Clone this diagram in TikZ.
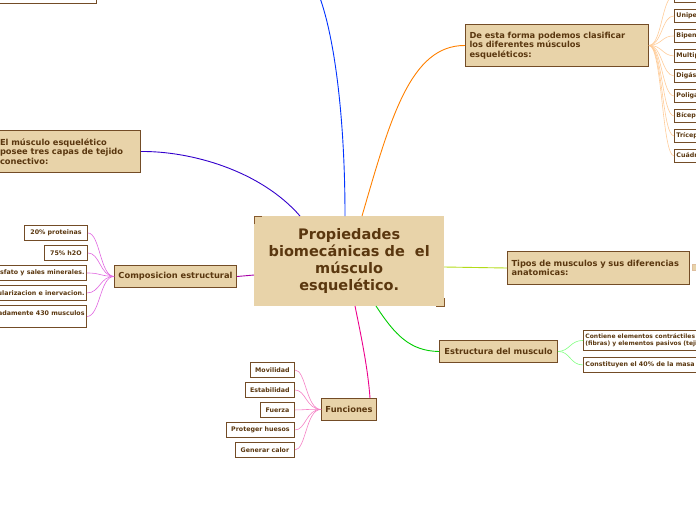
\documentclass[tikz,border=0pt]{standalone}
\usepackage{fontspec}
\setmainfont{DejaVu Sans}
\begin{document}
\begin{tikzpicture}[x=1pt,y=-1pt,
  topic/.style={draw=brown!60!black,fill={rgb,255:red,232;green,211;blue,169},line width=1pt,text={rgb,255:red,90;green,55;blue,15},font=\bfseries\fontsize{8.3}{9.5}\selectfont,inner sep=3pt,align=left,anchor=north west,minimum height=22pt},
  leaf/.style={draw=brown!60!black,fill=white,line width=0.9pt,text={rgb,255:red,90;green,55;blue,15},font=\bfseries\fontsize{6.3}{7.3}\selectfont,inner sep=2pt,anchor=north west,minimum height=15pt,align=left}]
\useasboundingbox (0,0) rectangle (696,520);
\clip (0,0) rectangle (696,520);
% central
\node[fill={rgb,255:red,232;green,211;blue,169},minimum width=190pt,minimum height=90pt,anchor=north west,text={rgb,255:red,90;green,55;blue,15},font=\bfseries\fontsize{14.5}{17}\selectfont,align=center] (c) at (254,216) {Propiedades\\biomecánicas de~ el\\músculo\\esquelético.};
\draw[brown!70!black,line width=1pt] (254,224) -- (254,216) -- (262,216);
\draw[brown!70!black,line width=1pt] (436,306) -- (444,306) -- (444,298);
% topics
\node[leaf,minimum width=110pt] (tl) at (-14,-12) {};
\node[topic,minimum width=145pt,minimum height=42pt,text width=136pt] (m) at (-5,130) {El músculo esquelético\\posee tres capas de tejido\\conectivo:};
\node[topic,minimum width=122pt] (ce) at (114,265) {Composicion estructural};
\node[topic,minimum width=55pt] (f) at (321,398) {Funciones};
\node[topic,minimum width=118pt] (es) at (439,340) {Estructura del musculo};
\node[topic,minimum width=182pt,minimum height=33pt,text width=174pt] (t) at (507,251) {Tipos de musculos y sus diferencias\\anatomicas:};
\node[topic,minimum width=183pt,minimum height=42pt,text width=175pt] (d) at (465,24) {De esta forma podemos clasificar\\los diferentes músculos\\esqueléticos:};
\node[draw=brown!50,fill={rgb,255:red,232;green,211;blue,169},minimum width=6pt,minimum height=6pt,inner sep=0pt] (ic) at (695,267) {};
% main connectors
\draw[blue!80!cyan,line width=0.9pt] (345,216) .. controls (345,120) and (335,40) .. (320,-2);
\draw[blue!60!violet,line width=0.9pt] (300,216) .. controls (260,170) and (190,151) .. (m.east);
\draw[orange,line width=0.9pt] (362,216) .. controls (390,120) and (410,45) .. (d.west);
\draw[yellow!70!green,line width=0.9pt] (444,267) -- (t.west);
\draw[green!80!black,line width=0.9pt] (376,306) .. controls (395,335) and (410,351) .. (es.west);
\draw[magenta,line width=0.9pt] (355,306) .. controls (362,340) and (368,370) .. (370,398);
\draw[violet!70!magenta,line width=0.9pt] (254,275) -- (ce.east);
% composicion leaves
\node[leaf,minimum width=63pt] (c1) at (24,225) {20\% proteinas};
\node[leaf,minimum width=43pt] (c2) at (44,245) {75\% h2O};
\node[leaf,anchor=north east] (c3) at (87,265) {Fosfato y sales minerales.};
\node[leaf,anchor=north east] (c4) at (87,285) {Vascularizacion e inervacion.};
\node[leaf,anchor=north east,minimum height=22pt,text depth=6pt] (c5) at (87,305) {Aproximadamente 430 musculos};
\foreach \n in {c1,c2,c3,c4,c5}
  \draw[violet!40!magenta!60,line width=0.6pt] (ce.west) .. controls (100,276) and (100,0 |- \n.east) .. (\n.east);
% funciones leaves
\node[leaf,minimum width=44pt] (f1) at (250,362) {Movilidad};
\node[leaf,minimum width=49pt] (f2) at (245,382) {Estabilidad};
\node[leaf,minimum width=34pt] (f3) at (260,402) {Fuerza};
\node[leaf,minimum width=68pt] (f4) at (226,422) {Proteger huesos};
\node[leaf,minimum width=59pt] (f5) at (235,442) {Generar calor};
\foreach \n in {f1,f2,f3,f4,f5}
  \draw[magenta!50,line width=0.6pt] (f.west) .. controls (306,409) and (306,0 |- \n.east) .. (\n.east);
% estructura leaves
\node[leaf,minimum width=120pt,minimum height=20pt,font=\bfseries\fontsize{6}{6.8}\selectfont] (e1) at (583,330) {Contiene elementos contráctiles\\(fibras) y elementos pasivos (tejido)};
\node[leaf,minimum width=120pt] (e2) at (583,357) {Constituyen el 40\% de la masa corporal};
\foreach \n in {e1,e2}
  \draw[green!50,line width=0.6pt] (es.east) .. controls (570,351) and (570,0 |- \n.west) .. (\n.west);
% clasificacion leaves
\foreach \y/\txt [count=\i] in {-11/Fusiforme,9/Unipennado,29/Bipennado,49/Multipennado,69/Digástrico,89/Poligástrico,109/Bíceps,129/Tríceps,149/Cuádriceps}{
  \node[leaf,minimum height=13pt,text width=50pt] (k\i) at (674,\y) {\txt};
  \draw[orange!40,line width=0.6pt] (d.east) .. controls (662,45) and (662,\y+6.5) .. (k\i.west);
}
\end{tikzpicture}
\end{document}
